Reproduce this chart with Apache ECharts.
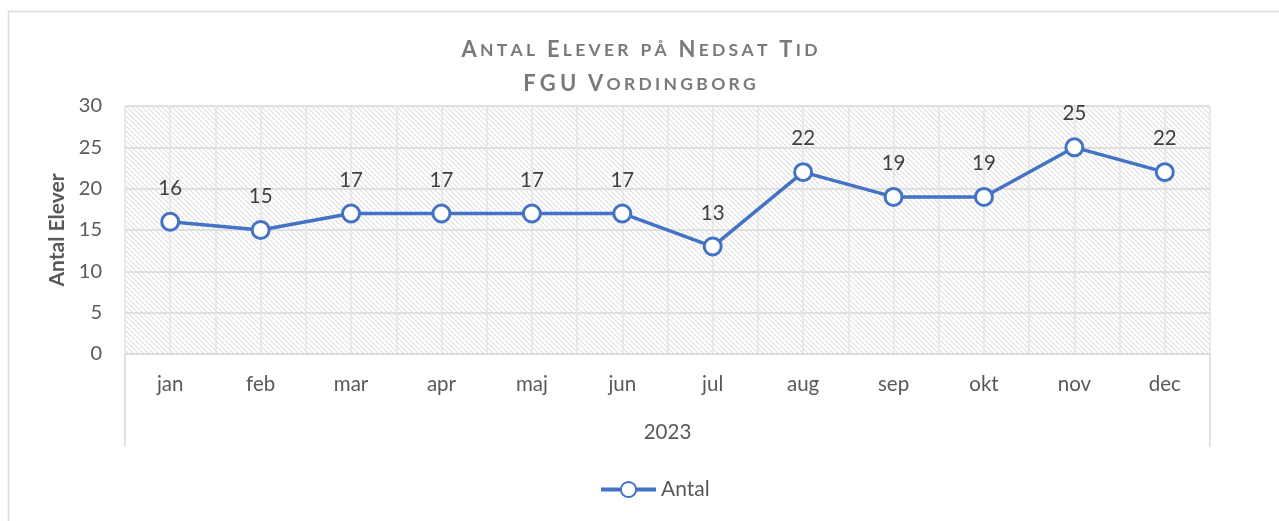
<!DOCTYPE html>
<html>
<head>
<meta charset="utf-8">
<script src="https://cdn.jsdelivr.net/npm/echarts@6/dist/echarts.min.js"></script>
<style>
  html, body { margin: 0; padding: 0; background: #fff; }
  #main { width: 1279px; height: 521px; }
</style>
</head>
<body>
<div id="main"></div>
<script>
// data
var months = ['jan', 'feb', 'mar', 'apr', 'maj', 'jun', 'jul', 'aug', 'sep', 'okt', 'nov', 'dec']
var antal = [16, 15, 17, 17, 17, 17, 13, 22, 19, 19, 25, 22]
var year = ['2023']
var titleLines = ['Antal Elever på Nedsat Tid', 'FGU Vordingborg']

var FONT = 'Lato, "Open Sans", sans-serif'
var BLUE = '#4472C4'

// diagonal hatch for the plot area
function hatch() {
  var n = 5
  var c = document.createElement('canvas')
  c.width = n
  c.height = n
  var ctx = c.getContext('2d')
  ctx.fillStyle = '#fff'
  ctx.fillRect(0, 0, n, n)
  ctx.strokeStyle = '#dedede'
  ctx.lineWidth = 1.1
  for (var o = -n; o <= n; o += n) {
    ctx.beginPath()
    ctx.moveTo(o, 0)
    ctx.lineTo(o + n, n)
    ctx.stroke()
  }
  return c
}

// small caps with letter spacing
function smallCaps(line) {
  var sp = '\u2009\u200a'
  return line.split(' ').map(function (w) {
    var out = ''
    w.split('').forEach(function (ch, i) {
      var pre = i === 0 ? '' : sp
      if (ch === ch.toUpperCase()) out += '{b|' + pre + ch + '}'
      else out += '{s|' + pre + ch.toUpperCase() + '}'
    })
    return out
  }).join('{s|' + sp + '  ' + '}')
}

var chart = echarts.init(document.getElementById('main'))

var option = {
  animation: false,
  textStyle: { fontFamily: FONT },
  graphic: [{
    type: 'rect',
    shape: { x: 8.5, y: 11.5, width: 1400, height: 700 },
    style: { fill: 'none', stroke: '#d9d9d9', lineWidth: 1.5 },
    silent: true,
    z: -10
  }],
  title: {
    text: titleLines.map(smallCaps).join('\n'),
    left: 'center',
    top: 28,
    textStyle: {
      fontFamily: FONT,
      lineHeight: 34,
      rich: {
        b: { fontSize: 22, fontWeight: 'bold', color: '#7a7a7a', fontFamily: FONT, lineHeight: 34 },
        s: { fontSize: 17.5, fontWeight: 'bold', color: '#7a7a7a', fontFamily: FONT, lineHeight: 34 }
      }
    }
  },
  legend: {
    bottom: 16,
    left: 594,
    itemWidth: 55,
    itemHeight: 19,
    itemGap: 4,
    lineStyle: { width: 4 },
    textStyle: { fontSize: 21, color: '#595959', fontFamily: FONT },
    data: ['Antal']
  },
  grid: {
    left: 125,
    right: 69,
    top: 106,
    bottom: 167,
    show: true,
    borderWidth: 0,
    backgroundColor: { image: hatch(), repeat: 'repeat' }
  },
  xAxis: [
    {
      type: 'category',
      data: months,
      boundaryGap: true,
      axisLine: { lineStyle: { color: '#d9d9d9', width: 1.5 } },
      axisTick: { show: false },
      splitLine: { show: false },
      axisLabel: { fontSize: 20.5, color: '#595959', margin: 20, fontFamily: FONT }
    },
    {
      type: 'category',
      data: year,
      position: 'bottom',
      boundaryGap: true,
      axisLine: { show: false },
      axisTick: { show: true, length: 93, lineStyle: { color: '#d9d9d9', width: 1.5 } },
      axisLabel: { fontSize: 20.5, color: '#595959', margin: 68, fontFamily: FONT }
    },
    {
      // half-category vertical gridlines
      type: 'value',
      min: 0,
      max: 24,
      interval: 1,
      position: 'top',
      axisLine: { show: false },
      axisTick: { show: false },
      axisLabel: { show: false },
      splitLine: { show: true, lineStyle: { color: '#e3e3e3', width: 1.5 } }
    }
  ],
  yAxis: {
    type: 'value',
    min: 0,
    max: 30,
    interval: 5,
    name: 'Antal Elever',
    nameLocation: 'middle',
    nameGap: 57,
    nameTextStyle: { fontSize: 21, fontWeight: 'bold', color: '#595959', fontFamily: FONT },
    axisLine: { show: false },
    axisTick: { show: false },
    axisLabel: { fontSize: 20, color: '#595959', margin: 23, fontFamily: FONT },
    splitLine: { lineStyle: { color: '#d9d9d9', width: 1.5 } }
  },
  series: [{
    name: 'Antal',
    type: 'line',
    xAxisIndex: 0,
    data: antal,
    symbol: 'circle',
    symbolSize: 17,
    lineStyle: { color: BLUE, width: 3.5 },
    itemStyle: { color: '#fff', borderColor: BLUE, borderWidth: 3 },
    label: {
      show: true,
      position: 'top',
      distance: 13,
      fontSize: 20.5,
      color: '#404040',
      fontFamily: FONT
    },
    z: 5
  }]
}

chart.setOption(option)
</script>
</body>
</html>
